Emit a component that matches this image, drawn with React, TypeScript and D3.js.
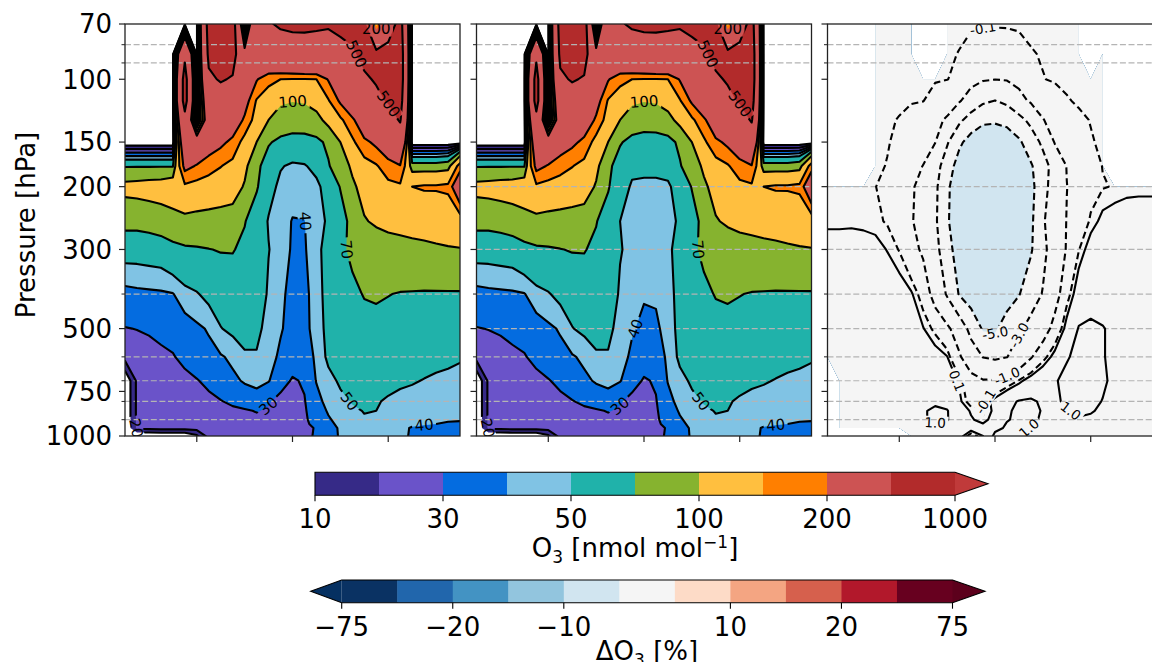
import React, { useMemo } from 'react';
import * as d3 from 'd3';

// ---------------- data ----------------
const LON = [45, 47.5, 50, 52.5, 55, 57.5, 60, 62.5, 65, 67.5, 70, 72.5, 75, 77.5, 80, 82.5, 85, 87.5, 90, 92.5, 95, 97.5, 100, 102.5, 105, 107.5, 110, 112.5, 115];
const P_LEVELS = [1000, 950, 925, 900, 850, 800, 700, 600, 500, 400, 300, 250, 200, 175, 150, 130, 115, 100, 85, 70];

// ozone, left panel (rows follow P_LEVELS, columns follow LON)
const O3_CTRL = [
  [0, 0, 0, 0, 0, 0, 8, 24, 24, 25, 25, 25, 25, 24, 24, 28, 31, 36, 41, 45, 46, 46, 44, 42, 39, 37, 36, 37, 37],
  [0, 22, 23, 24, 24, 24, 24, 24, 24, 25, 25, 26, 26, 25, 25, 27, 31, 37, 41, 45, 47, 47, 45, 43, 39, 38, 38, 38, 38],
  [0, 22, 23, 24, 24, 24, 25, 25, 25, 26, 26, 27, 27, 26, 25, 28, 33, 38, 42, 46, 48, 48, 46, 44, 42, 41, 40, 39, 39],
  [0, 22, 23, 24, 24, 25, 25, 26, 26, 27, 27, 28, 28, 26, 25, 28.5, 34, 39, 43, 47, 49, 49, 47, 45, 44, 43, 42, 41, 40.5],
  [0, 22, 23, 24, 25, 25, 26, 26, 27, 28, 29, 30.5, 29, 26, 25, 29, 35, 41, 45, 48, 50.5, 50, 48, 47, 46, 45, 44, 43, 43],
  [0, 22, 23, 24, 25, 26, 27, 28, 29.5, 32, 34, 35, 31, 27, 25, 29.5, 37, 43, 47, 51, 52, 51, 48.5, 47, 46, 45, 44, 44, 43],
  [0, 22, 23, 24, 26, 28, 29.5, 32, 36, 38, 41, 43, 40.5, 34, 29, 31, 40.5, 46, 52, 55, 56, 56, 54, 52, 51, 49.5, 48.5, 48, 47],
  [24, 26, 27, 28.5, 29.5, 32, 35, 37, 39, 42, 48, 49, 44, 38, 35, 37, 41, 53, 57, 60, 62, 62, 60, 58, 56, 55, 53, 52, 51],
  [29.7, 30.2, 31, 32, 33, 35, 38, 41, 49.5, 53, 56, 53, 46, 41, 36, 37, 44, 54, 59, 62, 64, 65, 64, 63, 62, 61, 60, 59, 58],
  [36.5, 37.5, 38, 38.5, 39.5, 46, 49, 54, 57, 60, 62, 60, 48, 42, 37, 37, 45, 55, 62, 66, 71, 72, 70.5, 69, 68.5, 68, 68, 68, 68],
  [56, 56, 57, 58, 64, 67, 68, 69.5, 71, 71, 66, 58, 50.5, 44, 39, 39, 46, 56, 66, 74, 80, 85, 88, 90, 92, 94, 96, 98, 99],
  [77, 77, 79, 83, 86, 89, 88, 87, 86, 85, 71, 60, 49, 44, 39.5, 39.8, 45, 52, 62, 76, 98, 104, 108, 110, 112, 113, 115, 115, 116],
  [110, 112, 115, 117, 125, 140, 130, 125, 120, 115, 97, 72, 55, 47, 44, 44, 47, 56, 71, 95, 110, 125, 135, 142, 150, 155, 155, 160, 280],
  [68, 68, 68, 68, 68, 220, 195, 170, 152, 135, 108, 75, 60, 51, 48, 49, 54, 68, 85, 105, 130, 145, 180, 195, 80, 80, 80, 85, 170],
  [0, 0, 0, 0, 0, 300, 280, 240, 215, 185, 130, 100, 72, 65, 62, 62, 64, 75, 100, 140, 185, 215, 250, 350, 0, 0, 0, 0, 0],
  [0, 0, 0, 0, 0, 420, 0, 300, 320, 250, 190, 125, 100, 85, 82, 83, 90, 110, 140, 185, 270, 330, 400, 520, 0, 0, 0, 0, 0],
  [0, 0, 0, 0, 0, 600, 0, 350, 380, 330, 230, 145, 130, 105, 101, 103, 112, 145, 210, 300, 380, 450, 520, 600, 0, 0, 0, 0, 0],
  [0, 0, 0, 0, 0, 600, 0, 460, 520, 480, 300, 205, 160, 150, 148, 148, 150, 205, 270, 350, 470, 520, 600, 650, 0, 0, 0, 0, 0],
  [0, 0, 0, 0, 0, 450, 0, 550, 650, 600, 250, 320, 340, 360, 380, 400, 400, 400, 420, 470, 560, 560, 600, 650, 0, 0, 0, 0, 0],
  [0, 0, 0, 0, 0, 0, 0, 600, 650, 620, 0, 430, 480, 530, 545, 540, 530, 520, 560, 580, 560, 120, 350, 600, 0, 0, 0, 0, 0],
];

// ozone, middle panel
const O3_EXP = [
  [0, 0, 0, 0, 0, 0, 8, 24, 24, 25, 25, 25, 25, 24, 24, 28, 31, 36, 41, 45, 46, 46, 44, 42, 39, 37, 36, 37, 37],
  [0, 22, 23, 24, 24, 24, 24, 24, 24, 25, 25, 26, 26, 25, 25, 27, 31, 37, 41, 45, 47, 47, 45, 43, 39, 38, 38, 38, 38],
  [0, 22, 23, 24, 24, 24, 25, 25, 25, 26, 26, 27, 27, 26, 25, 28, 33, 38, 42, 46, 48, 48, 46, 44, 42, 41, 40, 39, 39],
  [0, 22, 23, 24, 24, 25, 25, 26, 26, 27, 27, 28, 28, 26, 25, 28.5, 34, 39, 43, 47, 49, 49, 47, 45, 44, 43, 42, 41, 40.5],
  [0, 22, 23, 24, 25, 25, 26, 26, 27, 28, 29, 30.5, 29, 26, 25, 29, 35, 41, 45, 48, 50.5, 50, 48, 47, 46, 45, 44, 43, 43],
  [0, 22, 23, 24, 25, 26, 27, 28, 29.5, 32, 34, 35, 31, 27, 25, 29.5, 37, 43, 47, 51, 52, 51, 48.5, 47, 46, 45, 44, 44, 43],
  [0, 22, 23, 24, 26, 28, 29.5, 32, 36, 38, 41, 43, 40.5, 34, 29, 31, 40.5, 46, 52, 55, 56, 56, 54, 52, 51, 49.5, 48.5, 48, 47],
  [24, 26, 27, 28.5, 29.5, 32, 35, 37, 39, 42, 48, 49, 44, 38, 35, 37, 41, 53, 57, 60, 62, 62, 60, 58, 56, 55, 53, 52, 51],
  [29.7, 30.2, 31, 32, 33, 35, 38, 41, 49.5, 53, 56, 53, 46, 41, 37.5, 38, 44, 54, 59, 62, 64, 65, 64, 63, 62, 61, 60, 59, 58],
  [36.5, 37.5, 38, 38.5, 39.5, 46, 49, 54, 57, 60, 62, 60, 48, 43, 41, 41.5, 45, 55, 62, 66, 71, 72, 70.5, 69, 68.5, 68, 68, 68, 68],
  [56, 56, 57, 58, 64, 67, 68, 69.5, 71, 71, 66, 58, 51, 46, 43, 43, 47, 56, 66, 74, 80, 85, 88, 90, 92, 94, 96, 98, 99],
  [77, 77, 79, 83, 86, 89, 88, 87, 86, 85, 71, 60, 50, 46, 44, 44, 46, 52, 62, 76, 98, 104, 108, 110, 112, 113, 115, 115, 116],
  [110, 112, 115, 117, 125, 140, 130, 125, 120, 115, 97, 72, 54, 49, 48.5, 48.5, 48, 56, 71, 95, 110, 125, 135, 142, 150, 155, 155, 160, 280],
  [68, 68, 68, 68, 68, 220, 195, 170, 152, 135, 108, 75, 60, 52, 52, 52, 55, 68, 85, 105, 130, 145, 180, 195, 80, 80, 80, 85, 170],
  [0, 0, 0, 0, 0, 300, 280, 240, 215, 185, 130, 100, 72, 63, 60, 60, 62, 75, 100, 140, 185, 215, 250, 350, 0, 0, 0, 0, 0],
  [0, 0, 0, 0, 0, 420, 0, 300, 320, 250, 190, 125, 100, 85, 82, 83, 90, 110, 140, 185, 270, 330, 400, 520, 0, 0, 0, 0, 0],
  [0, 0, 0, 0, 0, 600, 0, 350, 380, 330, 230, 145, 130, 105, 101, 103, 112, 145, 210, 300, 380, 450, 520, 600, 0, 0, 0, 0, 0],
  [0, 0, 0, 0, 0, 600, 0, 460, 520, 480, 300, 205, 160, 150, 148, 148, 150, 205, 270, 350, 470, 520, 600, 650, 0, 0, 0, 0, 0],
  [0, 0, 0, 0, 0, 450, 0, 550, 650, 600, 250, 320, 340, 360, 380, 400, 400, 400, 420, 470, 560, 560, 600, 650, 0, 0, 0, 0, 0],
  [0, 0, 0, 0, 0, 0, 0, 600, 650, 620, 0, 430, 480, 530, 545, 540, 530, 520, 560, 580, 560, 120, 350, 600, 0, 0, 0, 0, 0],
];

// relative ozone change [%], right panel (null = no data)
const N = null;
const DO3 = [
  [N, N, N, N, N, N, N, 0.7, 0.7, 0.7, 0.6, 0.3, -0.3, 0.1, 1.2, 1.1, 1.02, 0.9, 0.7, 0.65, 0.6, 0.6, 0.6, 0.6, 0.6, 0.6, 0.6, 0.6, 0.6],
  [N, 0.5, 0.55, 0.6, 0.65, 0.7, 0.7, 0.75, 0.8, 0.8, 0.7, 0.5, 0.3, 0.3, 0.8, 1.1, 1.1, 0.98, 0.8, 0.7, 0.65, 0.6, 0.6, 0.6, 0.6, 0.6, 0.6, 0.6, 0.6],
  [N, 0.5, 0.55, 0.6, 0.65, 0.7, 0.75, 0.8, 0.9, 0.95, 0.85, 0.5, 0.2, 0.12, 0.6, 1.05, 1.15, 1.1, 0.85, 0.75, 0.7, 0.7, 0.7, 0.65, 0.6, 0.6, 0.6, 0.6, 0.6],
  [N, 0.5, 0.55, 0.6, 0.65, 0.7, 0.75, 0.85, 0.95, 1.1, 1.05, 0.5, 0.15, -0.05, 0.3, 0.95, 1.15, 1.15, 0.9, 0.8, 0.85, 0.95, 0.9, 0.8, 0.7, 0.6, 0.6, 0.6, 0.6],
  [N, 0.5, 0.55, 0.6, 0.65, 0.7, 0.75, 0.85, 0.95, 1.1, 1.05, 0.4, 0.05, -0.15, 0.2, 0.9, 1.15, 1.2, 0.95, 0.85, 0.95, 1.1, 1.05, 0.9, 0.75, 0.65, 0.6, 0.6, 0.6],
  [N, 0.5, 0.55, 0.6, 0.65, 0.7, 0.75, 0.8, 0.85, 0.9, 0.7, 0.2, -0.3, -0.2, 0.3, 0.8, 1.05, 1.1, 0.9, 0.9, 1.1, 1.2, 1.15, 0.98, 0.8, 0.65, 0.6, 0.6, 0.6],
  [N, 0.6, 0.65, 0.7, 0.7, 0.7, 0.7, 0.65, 0.6, 0.5, 0.35, 0.05, -0.5, -0.9, -0.85, -0.5, -0.05, 0.4, 0.7, 0.95, 1.15, 1.2, 1.2, 1.1, 0.85, 0.7, 0.6, 0.6, 0.6],
  [0.6, 0.65, 0.7, 0.7, 0.7, 0.7, 0.6, 0.5, 0.4, 0.3, 0.12, -0.8, -2.0, -3.05, -3.3, -3.05, -2.0, -1.1, -0.3, 0.3, 0.95, 1.15, 1.2, 1.05, 0.8, 0.65, 0.6, 0.6, 0.6],
  [0.6, 0.65, 0.7, 0.7, 0.7, 0.65, 0.55, 0.45, 0.12, -0.2, -0.7, -1.8, -3.6, -5.2, -5.3, -4.0, -3.3, -2.4, -1.6, -0.6, 0.3, 1.05, 1.2, 1.05, 0.8, 0.7, 0.6, 0.6, 0.6],
  [0.5, 0.55, 0.6, 0.6, 0.55, 0.45, 0.3, 0.15, -0.3, -1.5, -3.2, -5.1, -6.0, -6.5, -6.5, -6.0, -5.1, -3.9, -2.9, -1.5, -0.3, 0.4, 0.5, 0.5, 0.5, 0.5, 0.5, 0.5, 0.5],
  [0.35, 0.4, 0.4, 0.35, 0.25, 0.08, -0.12, -0.6, -1.2, -2.4, -4.2, -6.0, -7.4, -8.0, -8.1, -7.8, -6.9, -5.2, -3.5, -2.0, -0.9, -0.12, 0.3, 0.4, 0.45, 0.45, 0.45, 0.45, 0.45],
  [0.0, -0.02, 0.0, -0.02, -0.04, -0.13, -0.45, -0.9, -1.5, -2.7, -4.7, -6.6, -7.9, -8.5, -8.6, -8.3, -7.3, -5.4, -3.2, -2.0, -0.95, -0.4, -0.05, 0.2, 0.3, 0.35, 0.35, 0.35, 0.35],
  [0.02, 0.02, 0.01, -0.03, -0.09, -0.25, -0.5, -0.85, -1.4, -2.6, -4.6, -6.4, -7.6, -8.0, -8.1, -7.8, -7.0, -5.6, -3.6, -2.2, -1.02, -0.5, -0.25, -0.12, -0.08, -0.02, 0.0, 0.0, 0.0],
  [N, N, N, N, -0.02, -0.12, -0.4, -0.7, -1.02, -2.2, -4.0, -5.8, -7.0, -7.5, -7.6, -7.3, -6.6, -5.2, -3.8, -2.2, -0.95, -0.5, -0.25, -0.09, N, N, N, N, N],
  [N, N, N, N, 0.0, -0.07, -0.2, -0.4, -0.65, -0.95, -2.8, -4.6, -5.8, -6.4, -6.5, -6.2, -5.3, -4.0, -2.6, -0.9, -0.5, -0.25, -0.12, -0.06, N, N, N, N, N],
  [N, N, N, N, 0.01, -0.05, -0.12, -0.3, -0.5, -0.8, -1.1, -2.6, -3.8, -4.6, -4.7, -4.4, -3.6, -2.5, -1.05, -0.6, -0.3, -0.15, -0.09, -0.05, N, N, N, N, N],
  [N, N, N, N, 0.02, 0.0, -0.03, -0.06, -0.09, -0.3, -0.6, -0.85, -1.8, -2.7, -3.05, -2.6, -1.5, -0.8, -0.5, -0.25, -0.12, -0.07, -0.04, -0.02, N, N, N, N, N],
  [N, N, N, N, 0.02, 0.0, -0.01, -0.02, -0.04, -0.06, -0.09, -0.2, -0.5, -0.85, -0.98, -0.9, -0.6, -0.25, -0.11, -0.07, -0.05, -0.03, -0.02, 0.0, N, N, N, N, N],
  [N, N, N, N, 0.02, 0.02, 0.01, 0.0, N, N, -0.06, -0.11, -0.25, -0.35, -0.4, -0.35, -0.25, -0.12, -0.08, -0.04, -0.02, 0.0, N, 0.0, N, N, N, N, N],
  [N, N, N, N, 0.02, 0.02, 0.02, 0.0, N, N, -0.02, -0.04, -0.05, -0.06, -0.06, -0.06, -0.05, -0.04, -0.03, -0.02, 0.0, 0.0, N, 0.0, N, N, N, N, N],
];

const O3_LEVELS = [10, 20, 30, 40, 50, 70, 100, 150, 200, 500, 1000];
const O3_COLORS = ['#362a87', '#6a53c9', '#046ce0', '#80c3e4', '#20b2aa', '#86b32f', '#ffbf3f', '#ff7f00', '#cd5353', '#b22b2b'];
const O3_OVER = '#c03a3a';
const O3_TICKS = [10, 30, 50, 100, 200, 1000];

const D_LEVELS = [-75, -50, -20, -15, -10, -5, 5, 10, 15, 20, 50, 75];
const D_COLORS = ['#0a3263', '#2166ac', '#4393c3', '#92c5de', '#d1e5f0', '#f5f5f5', '#fddbc7', '#f4a582', '#d6604d', '#b2182b', '#67001f'];
const D_UNDER = '#053061';
const D_OVER = '#5c001c';
const D_TICKS = [-75, -20, -10, 10, 20, 75];
const D_LINE_LEVELS = [-5, -3, -1, -0.1, 0.1, 1];

const Y_MAJOR = [70, 100, 150, 200, 300, 500, 750, 1000];
const Y_MINOR = [80, 90, 400, 600, 700, 800, 900];
const GRID_P_LEFT = [80, 90, 400, 600, 700, 800, 900];
const GRID_P = [80, 90, 200, 300, 400, 500, 600, 700, 800, 900];
const X_TICKS = [60, 80, 100];

// contour label anchors (level, longitude, pressure)
const LABELS_CTRL = [
  { level: 100, lon: 79.5, p: 114 }, { level: 500, lon: 93.0, p: 90 }, { level: 500, lon: 100.0, p: 125 },
  { level: 200, lon: 98.3, p: 78 }, { level: 40, lon: 82.6, p: 265 }, { level: 70, lon: 91.0, p: 297 },
  { level: 30, lon: 74.9, p: 819 }, { level: 50, lon: 91.0, p: 803 }, { level: 40, lon: 107.7, p: 902 },
  { level: 20, lon: 46.5, p: 950 },
];
const LABELS_EXP = [
  { level: 100, lon: 79.5, p: 114 }, { level: 500, lon: 93.0, p: 90 }, { level: 500, lon: 100.0, p: 125 },
  { level: 200, lon: 98.3, p: 78 }, { level: 40, lon: 79.1, p: 464 }, { level: 70, lon: 91.1, p: 317 },
  { level: 30, lon: 74.9, p: 819 }, { level: 50, lon: 91.0, p: 803 }, { level: 40, lon: 107.7, p: 902 },
  { level: 20, lon: 46.5, p: 950 },
];
const LABELS_DIFF = [
  { level: -0.1, lon: 79.0, p: 74 }, { level: -5, lon: 79.6, p: 521 }, { level: -3, lon: 85.2, p: 566 },
  { level: -1, lon: 83.5, p: 661 }, { level: 0.1, lon: 70.0, p: 706 }, { level: -0.1, lon: 77.9, p: 819 },
  { level: 1, lon: 68.5, p: 890 }, { level: 1, lon: 94.2, p: 913 }, { level: 1, lon: 85.2, p: 980 },
];

// ---------------- layout ----------------
const W = 1152, H = 662;
const TOP = 24, BOTTOM = 436, PANEL_W = 335;
const PANEL_LEFT = [125, 476.5, 827.5];
const FONT = "'DejaVu Sans', Verdana, sans-serif";

const yScale = d3.scaleLog().domain([70, 1000]).range([TOP, BOTTOM]);
const LOGP = P_LEVELS.map((p) => Math.log10(p));

function lerpIdx(arr, f) {
  const n = arr.length;
  if (f <= 0) return arr[0] + f * (arr[1] - arr[0]);
  if (f >= n - 1) return arr[n - 1] + (f - (n - 1)) * (arr[n - 1] - arr[n - 2]);
  const i = Math.floor(f), t = f - i;
  return arr[i] + (arr[i + 1] - arr[i]) * t;
}

// for contour lines only: missing cells take the nearest valid cell so no line is drawn along the data edge
function nearestFilled(rows) {
  const ny = rows.length, nx = rows[0].length;
  const valid = [];
  for (let j = 0; j < ny; j++) for (let i = 0; i < nx; i++) if (rows[j][i] != null) valid.push([j, i]);
  return rows.map((r, j) =>
    r.map((v, i) => {
      if (v != null) return v;
      let bd = Infinity, bv = 0;
      for (const [vj, vi] of valid) {
        const d = (vj - j) ** 2 + (vi - i) ** 2;
        if (d < bd) { bd = d; bv = rows[vj][vi]; }
      }
      return bv;
    })
  );
}

function padGrid(rows) {
  const ny0 = rows.length, nx0 = rows[0].length;
  const nx = nx0 + 2, ny = ny0 + 2;
  const values = new Array(nx * ny);
  for (let j = 0; j < ny; j++) {
    const r = rows[Math.min(ny0 - 1, Math.max(0, j - 1))];
    for (let i = 0; i < nx; i++) {
      const v = r[Math.min(nx0 - 1, Math.max(0, i - 1))];
      values[j * nx + i] = v == null ? NaN : v;
    }
  }
  return { values, nx, ny };
}

function contourPolys(grid, t, left) {
  const xs = d3.scaleLinear().domain([LON[0], LON[LON.length - 1]]).range([left, left + PANEL_W]);
  const geom = d3.contours().size([grid.nx, grid.ny]).contour(grid.values, t);
  return geom.coordinates.map((poly) =>
    poly.map((ring) =>
      ring.map(([cx, cy]) => {
        const lon = lerpIdx(LON, cx - 1.5);
        const lp = lerpIdx(LOGP, cy - 1.5);
        return [xs(lon), yScale(Math.pow(10, lp))];
      })
    )
  );
}

function polysToPath(polys) {
  let d = '';
  for (const poly of polys)
    for (const ring of poly) {
      if (ring.length < 2) continue;
      d += 'M' + ring.map((p) => p[0].toFixed(2) + ',' + p[1].toFixed(2)).join('L') + 'Z';
    }
  return d;
}

function textW(s, fs) {
  let w = 0;
  for (const c of s) w += c === '.' ? 0.318 : c === '-' ? 0.361 : 0.636;
  return w * fs;
}

function placeLabel(polys, tx, ty, left) {
  let best = null, bd = Infinity;
  for (const poly of polys)
    for (const ring of poly)
      for (let k = 0; k < ring.length; k++) {
        const [x, y] = ring[k];
        if (x < left + 4 || x > left + PANEL_W - 4 || y < TOP + 4 || y > BOTTOM - 4) continue;
        const d = (x - tx) ** 2 + (y - ty) ** 2;
        if (d < bd) { bd = d; best = { ring, k }; }
      }
  if (!best || bd > 32 * 32) return null;
  const r = best.ring, n = r.length - 1;
  const a = r[(best.k - 1 + n) % n], b = r[(best.k + 1) % n];
  let ang = (Math.atan2(b[1] - a[1], b[0] - a[0]) * 180) / Math.PI;
  if (ang > 90) ang -= 180;
  if (ang < -90) ang += 180;
  return { x: r[best.k][0], y: r[best.k][1], ang };
}

function buildPanel(k, rows, fillLevels, fillColors, underColor, lineLevels, labels, fmt, fs) {
  const left = PANEL_LEFT[k];
  const g = padGrid(rows);
  const lg = padGrid(nearestFilled(rows));
  const fills = [];
  if (underColor) fills.push({ d: polysToPath(contourPolys(g, -1e9, left)), color: underColor });
  fillLevels.forEach((t, i) => fills.push({ d: polysToPath(contourPolys(g, t, left)), color: fillColors[i] }));
  const lines = lineLevels.map((t) => {
    const polys = contourPolys(lg, t, left);
    return { t, polys, d: polysToPath(polys) };
  });
  const xs = d3.scaleLinear().domain([LON[0], LON[LON.length - 1]]).range([left, left + PANEL_W]);
  const labs = [];
  labels.forEach((L) => {
    const ln = lines.find((l) => l.t === L.level);
    if (!ln) return;
    const pl = placeLabel(ln.polys, xs(L.lon), yScale(L.p), left);
    if (!pl) return;
    const text = fmt(L.level);
    labs.push({ ...pl, text, w: textW(text, fs) + 5, h: fs * 0.95 });
  });
  return { left, fills, lines, labs, fs };
}

function Panel({ P, id, gridP, dashedNeg }) {
  const left = P.left;
  return (
    <g>
      <defs>
        <clipPath id={`clip${id}`}>
          <rect x={left} y={TOP} width={PANEL_W} height={BOTTOM - TOP} />
        </clipPath>
        <mask id={`mask${id}`} maskUnits="userSpaceOnUse" x={0} y={0} width={W} height={H}>
          <rect x={0} y={0} width={W} height={H} fill="white" />
          {P.labs.map((l, i) => (
            <rect key={i} x={-l.w / 2} y={-l.h / 2} width={l.w} height={l.h} fill="black"
              transform={`translate(${l.x},${l.y}) rotate(${l.ang})`} />
          ))}
        </mask>
      </defs>
      <g clipPath={`url(#clip${id})`}>
        {P.fills.map((f, i) => (f.d ? <path key={i} d={f.d} fill={f.color} fillRule="evenodd" stroke="none" /> : null))}
        {gridP.map((p) => (
          <line key={p} x1={left} x2={left + PANEL_W} y1={yScale(p)} y2={yScale(p)} stroke="#b4b4b4" strokeWidth={1.2} strokeDasharray="6,2.6" />
        ))}
        <g mask={`url(#mask${id})`}>
          {P.lines.map((l, i) =>
            l.d ? (
              <path key={i} d={l.d} fill="none" stroke="#000" strokeWidth={2.1} strokeLinejoin="round"
                strokeDasharray={dashedNeg && l.t < 0 ? '7,3.8' : undefined} />
            ) : null
          )}
        </g>
        {P.labs.map((l, i) => (
          <text key={i} x={0} y={0} transform={`translate(${l.x},${l.y}) rotate(${l.ang})`} textAnchor="middle"
            dominantBaseline="central" fontSize={P.fs} fontFamily={FONT} fill="#000">{l.text}</text>
        ))}
      </g>
      <rect x={left} y={TOP} width={PANEL_W} height={BOTTOM - TOP} fill="none" stroke="#222" strokeWidth={1.3} />
      {Y_MAJOR.map((p) => (
        <line key={'M' + p} x1={left - 6} x2={left} y1={yScale(p)} y2={yScale(p)} stroke="#222" strokeWidth={1.2} />
      ))}
      {Y_MINOR.map((p) => (
        <line key={'m' + p} x1={left - 3.5} x2={left} y1={yScale(p)} y2={yScale(p)} stroke="#222" strokeWidth={1} />
      ))}
      {X_TICKS.map((v) => {
        const x = left + ((v - LON[0]) / (LON[LON.length - 1] - LON[0])) * PANEL_W;
        return <line key={'x' + v} x1={x} x2={x} y1={BOTTOM} y2={BOTTOM + 6} stroke="#222" strokeWidth={1.2} />;
      })}
    </g>
  );
}

export default function App() {
  const panels = useMemo(() => {
    const o3fmt = (v) => String(v);
    const dfmt = (v) => v.toFixed(1);
    const o3FillColors = [...O3_COLORS, O3_OVER];
    const p1 = buildPanel(0, O3_CTRL, O3_LEVELS, o3FillColors, null, O3_LEVELS, LABELS_CTRL, o3fmt, 15);
    const p2 = buildPanel(1, O3_EXP, O3_LEVELS, o3FillColors, null, O3_LEVELS, LABELS_EXP, o3fmt, 15);
    const dFillColors = [...D_COLORS, D_OVER];
    const p3 = buildPanel(2, DO3, D_LEVELS, dFillColors, D_UNDER, D_LINE_LEVELS, LABELS_DIFF, dfmt, 13.5);
    return [p1, p2, p3];
  }, []);

  const cb1 = { x0: 315, w: 640, y0: 472.3, h: 23, tip: 988 };
  const cb1Box = cb1.w / O3_COLORS.length;
  const cb2 = { x0: 341.7, w: 610.8, y0: 580, h: 22.7, tipL: 310.7, tipR: 985 };
  const cb2Box = cb2.w / D_COLORS.length;

  return (
    <svg width={W} height={H} viewBox={`0 0 ${W} ${H}`} style={{ position: 'absolute', left: 0, top: 0 }}
      xmlns="http://www.w3.org/2000/svg">
      <rect x={0} y={0} width={W} height={H} fill="#fff" />
      <Panel P={panels[0]} id={0} gridP={GRID_P_LEFT} dashedNeg={false} />
      <Panel P={panels[1]} id={1} gridP={GRID_P} dashedNeg={false} />
      <Panel P={panels[2]} id={2} gridP={GRID_P} dashedNeg={true} />

      {Y_MAJOR.map((p) => (
        <text key={p} x={112} y={yScale(p)} dy="0.36em" textAnchor="end" fontSize={26} fontFamily={FONT} fill="#000">{p}</text>
      ))}
      <text transform={`translate(35,225) rotate(-90)`} textAnchor="middle" fontSize={26} fontFamily={FONT} fill="#000">Pressure [hPa]</text>

      {O3_COLORS.map((c, i) => (
        <rect key={i} x={cb1.x0 + i * cb1Box} y={cb1.y0} width={cb1Box + 0.5} height={cb1.h} fill={c} />
      ))}
      <path d={`M${cb1.x0 + cb1.w},${cb1.y0}L${cb1.tip},${cb1.y0 + cb1.h / 2}L${cb1.x0 + cb1.w},${cb1.y0 + cb1.h}Z`} fill={O3_OVER} />
      <path d={`M${cb1.x0},${cb1.y0}L${cb1.x0 + cb1.w},${cb1.y0}L${cb1.tip},${cb1.y0 + cb1.h / 2}L${cb1.x0 + cb1.w},${cb1.y0 + cb1.h}L${cb1.x0},${cb1.y0 + cb1.h}Z`}
        fill="none" stroke="#000" strokeWidth={1.1} />
      {O3_TICKS.map((v) => {
        const x = cb1.x0 + O3_LEVELS.indexOf(v) * cb1Box;
        return (
          <g key={v}>
            <line x1={x} x2={x} y1={cb1.y0 + cb1.h} y2={cb1.y0 + cb1.h + 6} stroke="#000" strokeWidth={1.1} />
            <text x={x} y={528} textAnchor="middle" fontSize={26} fontFamily={FONT} fill="#000">{v}</text>
          </g>
        );
      })}
      <text x={635} y={557} textAnchor="middle" fontSize={26} fontFamily={FONT} fill="#000">
        O<tspan fontSize={17} dy={6}>3</tspan><tspan dy={-6}> [nmol mol</tspan><tspan fontSize={17} dy={-9}>−1</tspan><tspan dy={9}>]</tspan>
      </text>

      <path d={`M${cb2.x0},${cb2.y0}L${cb2.tipL},${cb2.y0 + cb2.h / 2}L${cb2.x0},${cb2.y0 + cb2.h}Z`} fill={D_UNDER} />
      {D_COLORS.map((c, i) => (
        <rect key={i} x={cb2.x0 + i * cb2Box} y={cb2.y0} width={cb2Box + 0.5} height={cb2.h} fill={c} />
      ))}
      <path d={`M${cb2.x0 + cb2.w},${cb2.y0}L${cb2.tipR},${cb2.y0 + cb2.h / 2}L${cb2.x0 + cb2.w},${cb2.y0 + cb2.h}Z`} fill={D_OVER} />
      <path d={`M${cb2.x0},${cb2.y0}L${cb2.x0 + cb2.w},${cb2.y0}L${cb2.tipR},${cb2.y0 + cb2.h / 2}L${cb2.x0 + cb2.w},${cb2.y0 + cb2.h}L${cb2.x0},${cb2.y0 + cb2.h}L${cb2.tipL},${cb2.y0 + cb2.h / 2}Z`}
        fill="none" stroke="#000" strokeWidth={1.1} />
      {D_TICKS.map((v) => {
        const x = cb2.x0 + D_LEVELS.indexOf(v) * cb2Box;
        const label = v < 0 ? '\u2212' + Math.abs(v) : String(v);
        return (
          <g key={v}>
            <line x1={x} x2={x} y1={cb2.y0 + cb2.h} y2={cb2.y0 + cb2.h + 6} stroke="#000" strokeWidth={1.1} />
            <text x={x} y={636} textAnchor="middle" fontSize={26} fontFamily={FONT} fill="#000">{label}</text>
          </g>
        );
      })}
      <text x={647} y={660} textAnchor="middle" fontSize={26} fontFamily={FONT} fill="#000">
        ΔO<tspan fontSize={17} dy={6}>3</tspan><tspan dy={-6}> [%]</tspan>
      </text>
    </svg>
  );
}
